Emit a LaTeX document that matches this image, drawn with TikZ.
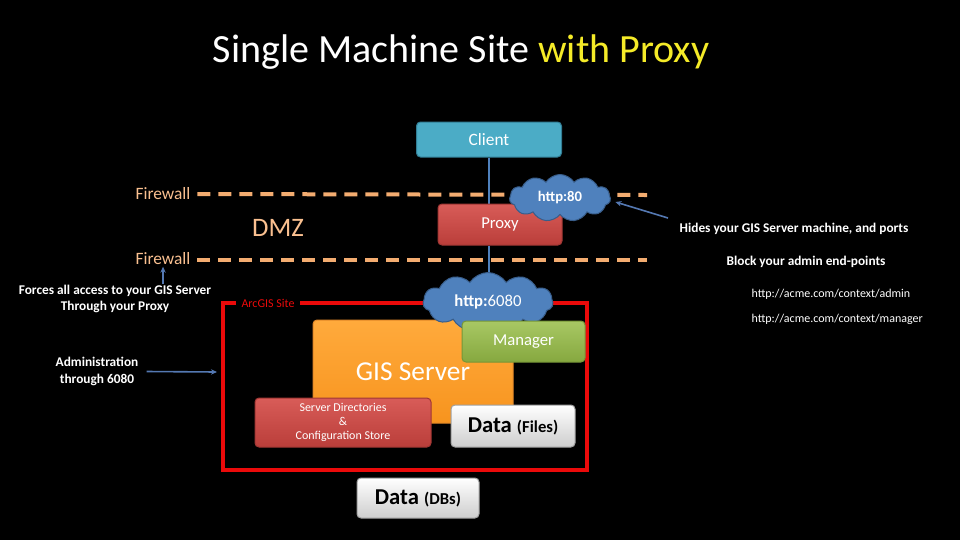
\documentclass[tikz,border=0pt]{standalone}
\usepackage{fontspec}
\setmainfont{Carlito}
\usetikzlibrary{shapes.symbols,arrows.meta}
\pgfdeclarelayer{bglayer}
\pgfsetlayers{bglayer,main}

\definecolor{titleyellow}{RGB}{245,235,40}
\definecolor{fworange}{RGB}{243,172,112}
\definecolor{fwtext}{RGB}{250,192,144}
\definecolor{clientblue}{RGB}{75,172,198}
\definecolor{clientline}{RGB}{50,125,148}
\definecolor{redtop}{RGB}{216,92,88}
\definecolor{redbot}{RGB}{186,62,58}
\definecolor{redline}{RGB}{160,55,52}
\definecolor{cloudblue}{RGB}{79,129,189}
\definecolor{cloudline}{RGB}{56,93,138}
\definecolor{connblue}{RGB}{79,129,189}
\definecolor{arrblue}{RGB}{84,120,178}
\definecolor{sitered}{RGB}{235,10,10}
\definecolor{gistop}{RGB}{255,170,60}
\definecolor{gisbot}{RGB}{247,148,30}
\definecolor{gisline}{RGB}{225,135,40}
\definecolor{mantop}{RGB}{168,200,100}
\definecolor{manbot}{RGB}{134,168,63}
\definecolor{manline}{RGB}{118,150,55}
\definecolor{datatop}{RGB}{255,255,255}
\definecolor{databot}{RGB}{205,205,205}
\definecolor{dataline}{RGB}{160,160,160}

\tikzset{
  txt/.style={inner sep=1pt, text=white, align=center},
  note/.style={txt, font=\fontsize{10}{12}\selectfont\bfseries},
  url/.style={txt, anchor=west, font=\fontsize{9}{10}\selectfont},
  box/.style={rounded corners=3pt, line width=0.75pt, inner sep=0pt, align=center, text=white},
  redbox/.style={box, draw=redline, top color=redtop, bottom color=redbot},
  databox/.style={box, draw=dataline, top color=datatop, bottom color=databot, text=black},
  cloudnode/.style={cloud, cloud puffs=11, cloud puff arc=115, cloud ignores aspect, draw=cloudline, fill=cloudblue, line width=0.75pt, inner sep=0pt, text=white},
  fwline/.style={draw=fworange, line width=3pt, dash pattern=on 9.75pt off 6pt},
  conn/.style={draw=connblue, line width=1.5pt},
  arr/.style={draw=arrblue, line width=1.2pt, -{Stealth[length=4.5pt,width=4pt]}},
}

\begin{document}
\begin{tikzpicture}[x=0.75pt,y=-0.75pt]
\useasboundingbox (0,0) rectangle (960,540);

% title
\node[txt] (title) at (461,52) {\fontsize{30}{36}\selectfont Single Machine Site \textcolor{titleyellow}{with Proxy}};

% firewalls and DMZ
\node[txt, anchor=east, text=fwtext] (fw1) at (192,194) {\fontsize{13}{15}\selectfont Firewall};
\node[txt, anchor=east, text=fwtext] (fw2) at (192,259) {\fontsize{13}{15}\selectfont Firewall};
\node[txt, text=fwtext] (dmz) at (278,228) {\fontsize{20}{24}\selectfont DMZ};
\coordinate (fw1end) at (647,195);
\coordinate (fw2end) at (647,260);

% client / proxy
\node[box, draw=clientline, fill=clientblue, minimum width=108.75pt, minimum height=26.25pt] (client) at (489,139.5) {\fontsize{13}{15}\selectfont Client};
\node[redbox, minimum width=93pt, minimum height=30.75pt] (proxy) at (500,224.5) {\fontsize{12.5}{15}\selectfont Proxy};
\node[cloudnode, minimum width=75.75pt, minimum height=35.25pt] (cloud80) at (560,198) {\fontsize{11}{13}\selectfont\bfseries http:80};

% ArcGIS site
\node[draw=sitered, line width=3pt, minimum width=273pt, minimum height=125.25pt, inner sep=0pt] (site) at (405,386.5) {};
\node[fill=black, text=sitered, inner xsep=4pt, inner ysep=1pt] (sitelabel) at (268,303) {\fontsize{9}{10}\selectfont ArcGIS Site};

\node[box, draw=gisline, top color=gistop, bottom color=gisbot, minimum width=150pt, minimum height=77.25pt] (gis) at (413,371.5) {\fontsize{20.5}{24}\selectfont GIS Server};
\node[cloudnode, minimum width=97.5pt, minimum height=44.25pt] (cloud6080) at (488,302) {\fontsize{12.5}{15}\selectfont\textbf{http:}6080};
\node[box, draw=manline, top color=mantop, bottom color=manbot, minimum width=92.25pt, minimum height=30.75pt] (manager) at (523.5,341.5) {\fontsize{12.5}{15}\selectfont Manager};
\node[redbox, minimum width=132pt, minimum height=36.75pt, font=\fontsize{9}{10.5}\selectfont] (serverdir) at (343,422.5) {Server Directories\\ \&\\ Configuration Store};
\node[databox, minimum width=93pt, minimum height=31.5pt] (datafiles) at (513,426) {\bfseries\fontsize{17}{20}\selectfont Data \fontsize{12.5}{15}\selectfont(Files)};
\node[databox, minimum width=91.5pt, minimum height=30pt] (datadbs) at (418,498) {\bfseries\fontsize{17}{20}\selectfont Data \fontsize{12.5}{15}\selectfont(DBs)};

% annotations
\node[note] (hides) at (794,229) {Hides your GIS Server machine, and ports};
\node[note] (block) at (806,262) {Block your admin end-points};
\node[url] (urladmin) at (750,294) {http://acme.com/context/admin};
\node[url] (urlmanager) at (750,319) {http://acme.com/context/manager};
\node[note] (forces) at (115,299) {Forces all access to your GIS Server\\ Through your Proxy};
\node[note, font=\fontsize{10}{12.75}\selectfont\bfseries] (admin) at (97,371.5) {Administration\\ through 6080};
\coordinate (hidestail) at (668,218);
\coordinate (admintip) at (217,372);

% arrows
\draw[arr] (hidestail) -- ([xshift=3.4pt,yshift=-3pt]cloud80.east);
\draw[arr] (fw2.south |- forces.north) -- (fw2.south);
\draw[arr] ([xshift=5pt]admin.east) -- (admintip);

% background layer: fill, firewall lines, connectors
\begin{pgfonlayer}{bglayer}
\fill[black] (0,0) rectangle (960,540);
\draw[fwline] ([xshift=4pt]fw1.east) -- (fw1end);
\draw[fwline] ([xshift=4pt]fw2.east |- fw2end) -- (fw2end);
\draw[conn] (client.south) -- (client.south |- proxy.north);
\draw[conn] (client.south |- proxy.south) -- (client.south |- cloud6080.center);
\end{pgfonlayer}
\end{tikzpicture}
\end{document}
